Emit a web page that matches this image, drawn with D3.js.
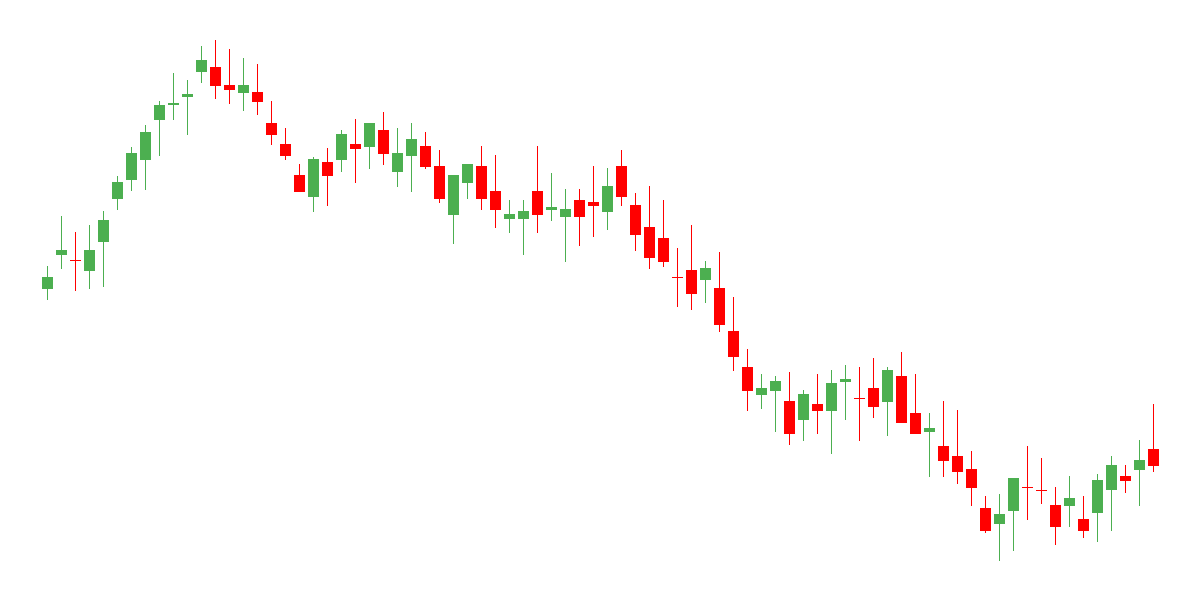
<!DOCTYPE html>
<html>
<head>
<meta charset="utf-8">
<script src="https://cdn.jsdelivr.net/npm/d3@7"></script>
<style>
  body { margin: 0; background: #fff; }
</style>
</head>
<body>
<div id="chart"></div>
<script>
// OHLC values, one entry per candle
var opens  = [70.3, 77.1, 76.1, 73.9, 79.7, 88.3, 91.9, 96.0, 104.0, 106.9,
              108.7, 113.6, 114.6, 111.0, 109.4, 109.6, 103.4, 99.2, 93.0, 88.6,
              95.6, 96.0, 99.2, 98.6, 102.0, 93.6, 96.8, 98.8, 94.8, 85.0,
              91.4, 94.8, 89.8, 84.2, 84.2, 89.8, 86.0, 84.6, 88.0, 87.6,
              85.6, 94.8, 87.0, 82.6, 80.4, 72.6, 74.0, 72.0, 70.4, 61.8,
              54.6, 49.0, 49.8, 47.8, 44.0, 47.2, 45.8, 51.6, 48.5, 50.4,
              47.6, 52.8, 45.4, 41.6, 38.8, 36.8, 34.2, 26.4, 23.2, 25.8,
              30.5, 30.1, 27.0, 26.8, 24.2, 25.4, 30.0, 32.8, 34.0, 38.2];
var highs  = [74.8, 84.8, 81.6, 83.0, 85.8, 92.7, 98.6, 103.0, 107.8, 113.4,
              112.0, 118.8, 120.0, 118.2, 116.4, 115.2, 107.8, 102.4, 95.2, 96.6,
              98.4, 102.0, 104.2, 103.4, 105.6, 102.4, 103.4, 101.6, 98.0, 93.0,
              95.2, 98.8, 97.0, 88.0, 88.0, 98.8, 93.4, 90.2, 90.2, 94.8,
              94.4, 98.0, 89.4, 90.8, 88.0, 78.4, 83.0, 75.8, 77.6, 68.6,
              58.2, 53.2, 52.8, 53.6, 50.0, 53.2, 54.0, 55.0, 54.6, 56.4,
              54.6, 57.6, 53.2, 45.4, 47.8, 46.0, 37.8, 28.8, 29.2, 32.4,
              38.8, 36.4, 30.6, 32.8, 28.8, 33.2, 36.8, 35.0, 40.0, 47.2];
var lows   = [67.9, 74.3, 69.9, 70.3, 70.7, 86.0, 89.7, 90.0, 96.8, 104.0,
              101.0, 111.5, 108.2, 107.2, 105.8, 105.0, 99.0, 96.0, 89.6, 85.6,
              86.8, 93.6, 91.4, 94.2, 95.0, 90.6, 89.6, 94.2, 87.4, 79.2,
              88.2, 86.0, 82.4, 81.4, 77.0, 81.4, 83.8, 75.6, 78.8, 80.6,
              82.0, 86.8, 77.8, 74.2, 74.6, 66.6, 66.0, 67.4, 61.6, 53.8,
              45.8, 46.2, 41.6, 39.0, 39.8, 41.2, 37.2, 44.0, 39.8, 44.4,
              40.8, 43.4, 41.2, 32.6, 32.6, 31.2, 26.8, 21.4, 15.8, 17.8,
              24.0, 27.2, 19.0, 22.6, 20.4, 19.6, 21.8, 29.4, 26.8, 33.6];
var closes = [72.6, 78.0, 76.1, 78.0, 84.0, 91.6, 97.4, 101.6, 107.0, 107.4,
              109.2, 116.0, 110.8, 110.0, 111.0, 107.6, 101.0, 96.8, 89.6, 96.2,
              92.8, 101.2, 98.2, 103.4, 97.2, 97.4, 100.2, 94.6, 88.2, 93.0,
              95.2, 88.2, 86.0, 85.2, 85.8, 85.0, 86.6, 86.2, 84.6, 86.8,
              90.8, 88.6, 81.0, 76.4, 75.6, 72.6, 69.2, 74.4, 63.0, 56.6,
              49.8, 50.4, 51.8, 41.2, 49.2, 45.8, 51.4, 52.2, 48.5, 46.6,
              54.0, 43.4, 41.2, 42.4, 35.8, 33.6, 30.4, 21.8, 25.2, 32.4,
              30.5, 30.1, 22.6, 28.4, 21.8, 32.0, 35.0, 31.8, 36.0, 34.8];

var upColor = "#4caf50",
    downColor = "#ff0000";

var width = 1200, height = 600;

var svg = d3.select("#chart").append("svg")
    .attr("width", width)
    .attr("height", height);

var data = opens.map(function (o, i) {
    return {i: i, open: o, high: highs[i], low: lows[i], close: closes[i]};
});

// x: one band per candle
var x = d3.scaleBand()
    .domain(data.map(function (d) { return d.i; }))
    .range([40.5, 1160.5])
    .paddingInner(3 / 14)
    .paddingOuter(3 / 28);

// y: price to pixels
var y = d3.scaleLinear()
    .domain([d3.min(lows), d3.max(highs)])
    .range([561, 40]);

function color(d) { return d.close > d.open ? upColor : downColor; }
function wickX(d) { return Math.round(x(d.i) + x.bandwidth() / 2 - 0.5) + 0.5; }
function bodyTop(d) { return Math.round(y(Math.max(d.open, d.close))); }
function bodyBottom(d) { return Math.round(y(Math.min(d.open, d.close))); }

var candles = svg.append("g")
    .selectAll("g")
    .data(data)
    .join("g");

// wicks
candles.append("line")
    .attr("x1", wickX)
    .attr("x2", wickX)
    .attr("y1", function (d) { return Math.round(y(d.high)); })
    .attr("y2", function (d) { return Math.round(y(d.low)); })
    .attr("stroke", color)
    .attr("stroke-width", 1);

// bodies (dojis get a 1px bar)
candles.append("rect")
    .attr("x", function (d) { return x(d.i); })
    .attr("width", x.bandwidth())
    .attr("y", bodyTop)
    .attr("height", function (d) { return Math.max(1, bodyBottom(d) - bodyTop(d)); })
    .attr("fill", color);
</script>
</body>
</html>
